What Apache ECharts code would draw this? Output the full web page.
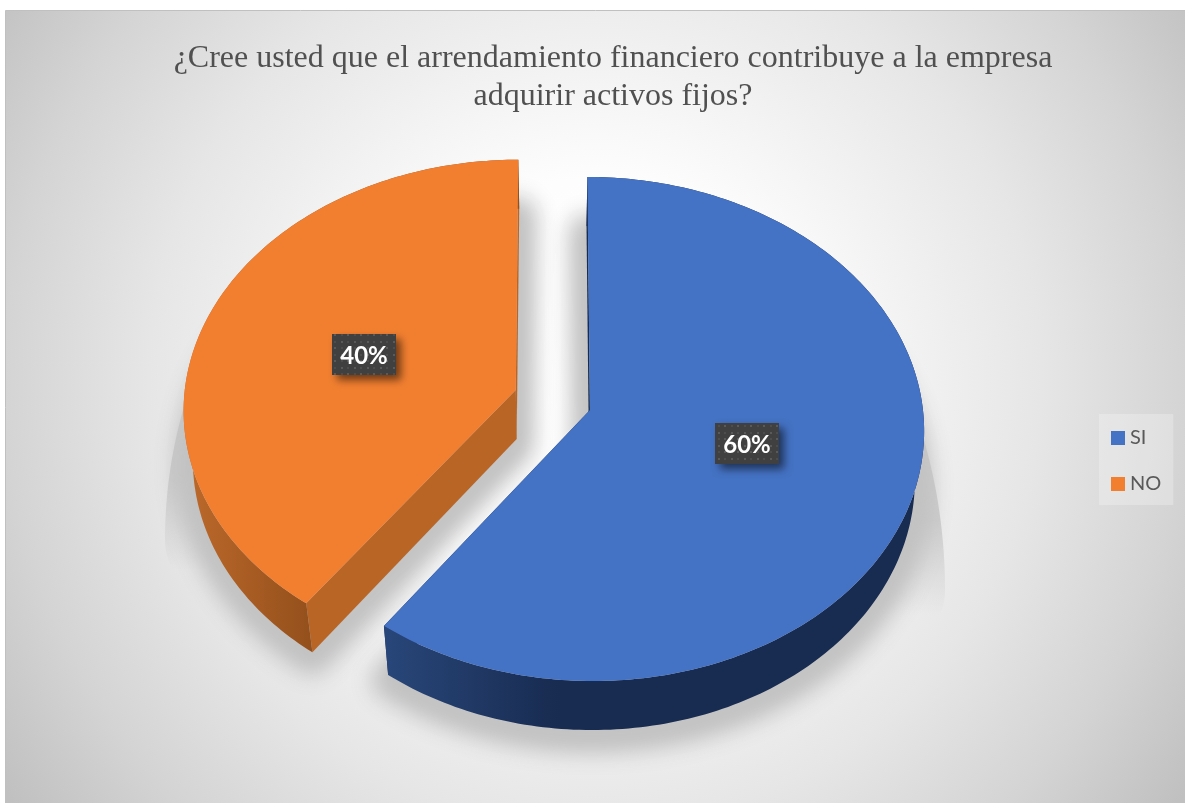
<!DOCTYPE html>
<html>
<head>
<meta charset="utf-8">
<style>html,body{margin:0;padding:0;background:#fff}#chart{width:1185px;height:803px}</style>
<script src="https://cdn.jsdelivr.net/npm/echarts@6/dist/echarts.min.js"></script>
</head>
<body>
<div id="chart"></div>
<script>
// Survey answers and their shares (percent)
const categories = ['SI', 'NO'];
const shares = [60, 40];
const titleLines = ['¿Cree usted que el arrendamiento financiero contribuye a la empresa', 'adquirir activos fijos?'];

// Camera used to project the flat pie onto the page
const VANISH_X = 553, PLANE_Y = 410, RADIUS_X = 333, RADIUS_Y = 250.6, PERSPECTIVE = 0.0754;
const DEPTH = 49, DEPTH_SCALE = 0.975;
// Plane offset of each slice's apex (the NO slice is pulled out of the pie)
const apexes = [{ u: 0.111, v: 0 }, { u: -0.1125, v: 0.08 }];
// Offsets of the percent badges along the slice's middle angle
const badgeRadius = [0.49, 0.49];
const badgeLift = [-4.5, 1.5];

const topColors = ['#4472c4', '#f27f30'];
const cutColors = ['#172c50', '#b86526'];
const sideGradients = [
  { x: 387, x2: 560, stops: ['#284679', '#182b50'] },
  { x: 190, x2: 310, stops: ['#bb682a', '#94501c'] }
];
// Streak of floor shadow that widens below each slice: centre, radii, sweep, fade band
const floorShadows = [
  { cx: 590, cy: 590, rx: 355, ryUp: 442, ryDown: 150, from: 60, to: 216, fadeFrom: 520, fadeTo: 615 },
  { cx: 517, cy: 540, rx: 352, ryUp: 411, ryDown: 140, from: 216, to: 300, fadeFrom: 480, fadeTo: 570 }
];
const OFFSCREEN = 3000;

function project(u, v) {
  const w = 1 + PERSPECTIVE * v;
  return [VANISH_X + RADIUS_X * u / w, PLANE_Y - RADIUS_Y * v / w];
}
function lower(p) {
  return [VANISH_X + (p[0] - VANISH_X) * DEPTH_SCALE, p[1] + DEPTH];
}
function sliceAngles(index) {
  const total = shares.reduce((a, b) => a + b, 0);
  let start = 0;
  for (let i = 0; i < index; i++) start += shares[i];
  return [start / total * 360, (start + shares[index]) / total * 360];
}
function rimPoints(index) {
  const a = sliceAngles(index), pts = [];
  for (let d = a[0]; d <= a[1] + 1e-6; d += 1) {
    const t = d * Math.PI / 180;
    pts.push(project(apexes[index].u + Math.sin(t), apexes[index].v + Math.cos(t)));
  }
  return pts;
}

// Dotted fill for the percent badges
function dottedPattern() {
  const c = document.createElement('canvas');
  c.width = c.height = 13;
  const g = c.getContext('2d');
  g.fillStyle = '#404040';
  g.fillRect(0, 0, 13, 13);
  g.fillStyle = '#5a5a5a';
  g.fillRect(3, 3, 2, 2);
  g.fillRect(9, 9, 2, 2);
  g.fillStyle = '#4d4d4d';
  g.fillRect(9, 3, 2, 2);
  g.fillRect(3, 9, 2, 2);
  return c;
}
const badgeFill = { image: dottedPattern(), repeat: 'repeat' };

function renderShadow(params, api) {
  const i = api.value(0);
  const apex = project(apexes[i].u, apexes[i].v);
  const s = floorShadows[i], streak = [apex];
  for (let d = s.from; d <= s.to; d += 1) {
    const t = d * Math.PI / 180, c = Math.cos(t);
    streak.push([s.cx + s.rx * Math.sin(t), s.cy - (c > 0 ? s.ryUp : s.ryDown) * c]);
  }
  // The casting shape sits off the page, so only its blurred shadow lands on it
  const base = [lower(apex)].concat(rimPoints(i).map(lower)).map(p => [p[0] - OFFSCREEN, p[1] + 6]);
  const fadeTop = 300;
  return {
    type: 'group',
    children: [
      {
        type: 'polygon', shape: { points: streak },
        style: {
          fill: {
            type: 'linear', x: 0, y: fadeTop, x2: 0, y2: s.fadeTo, global: true,
            colorStops: [
              { offset: 0, color: 'rgba(200,200,200,0.9)' },
              { offset: (s.fadeFrom - fadeTop) / (s.fadeTo - fadeTop), color: 'rgba(200,200,200,0.9)' },
              { offset: 1, color: 'rgba(200,200,200,0)' }
            ]
          }
        }
      },
      {
        type: 'polygon', shape: { points: base },
        style: {
          fill: '#c2c2c2', stroke: '#c2c2c2', lineWidth: 34, lineJoin: 'round',
          shadowBlur: 22, shadowColor: '#c2c2c2', shadowOffsetX: OFFSCREEN
        }
      }
    ]
  };
}

function renderSlice(params, api) {
  const i = params.seriesIndex - 1 === 0 ? 1 : 0;
  const rim = rimPoints(i);
  const apex = project(apexes[i].u, apexes[i].v);
  const apexLow = lower(apex);
  const rimLow = rim.map(lower);
  const g = sideGradients[i];
  const sideFill = {
    type: 'linear', x: g.x, y: 0, x2: g.x2, y2: 0, global: true,
    colorStops: [{ offset: 0, color: g.stops[0] }, { offset: 1, color: g.stops[1] }]
  };
  const first = rim[0], last = rim[rim.length - 1];
  const children = [
    { type: 'polygon', shape: { points: [apex, first, rimLow[0], apexLow] }, style: { fill: cutColors[i] } },
    { type: 'polygon', shape: { points: [apex, last, rimLow[rimLow.length - 1], apexLow] }, style: { fill: cutColors[i] } },
    { type: 'polygon', shape: { points: rim.concat(rimLow.slice().reverse()) }, style: { fill: sideFill } },
    { type: 'polygon', shape: { points: [apex].concat(rim) }, style: { fill: topColors[i] } }
  ];
  // Percent badge at the slice's middle angle
  const a = sliceAngles(i), mid = (a[0] + a[1]) / 2 * Math.PI / 180;
  const c = project(apexes[i].u + badgeRadius[i] * Math.sin(mid), apexes[i].v + badgeRadius[i] * Math.cos(mid));
  const cx = c[0], cy = c[1] + badgeLift[i];
  children.push({
    type: 'rect', shape: { x: Math.round(cx - 32), y: Math.round(cy - 20.5), width: 64, height: 41 },
    style: { fill: badgeFill, shadowBlur: 8, shadowOffsetX: 5, shadowOffsetY: 5, shadowColor: 'rgba(0,0,0,0.55)' }
  });
  children.push({
    type: 'text', x: Math.round(cx), y: Math.round(cy) + 1,
    style: { text: api.value(0) + '%', fill: '#fff', font: 'bold 24px Lato', align: 'center', verticalAlign: 'middle' }
  });
  return { type: 'group', children };
}

const chart = echarts.init(document.getElementById('chart'), null, { renderer: 'canvas' });
chart.setOption({
  animation: false,
  backgroundColor: '#ffffff',
  graphic: [{
    type: 'rect', z: -10, silent: true,
    shape: { x: 5.5, y: 10.5, width: 1185, height: 798 },
    style: {
      stroke: '#c0c0c0', lineWidth: 1,
      fill: {
        type: 'radial', x: 595, y: 380, r: 720, global: true,
        colorStops: [
          { offset: 0, color: '#ffffff' },
          { offset: 0.28, color: '#fdfdfd' },
          { offset: 0.5, color: '#eeeeee' },
          { offset: 0.62, color: '#e6e6e6' },
          { offset: 0.82, color: '#d4d4d4' },
          { offset: 1, color: '#c0c0c0' }
        ]
      }
    }
  }],
  title: {
    text: titleLines.join('\n'),
    left: 608, top: 35, textAlign: 'center',
    textStyle: { fontFamily: 'Liberation Serif', fontSize: 32, fontWeight: 'normal', color: '#505050', lineHeight: 38 }
  },
  legend: {
    data: categories,
    orient: 'vertical', left: 1099, top: 414,
    padding: [14, 12, 11, 12], itemWidth: 14, itemHeight: 14, itemGap: 26,
    icon: 'rect', selectedMode: false,
    backgroundColor: 'rgba(255,255,255,0.25)',
    textStyle: { fontFamily: 'Lato', fontSize: 20, color: '#595959', padding: [0, 3, 0, 0] }
  },
  series: [
    {
      type: 'custom', name: 'sombra', coordinateSystem: 'none', z: 1, silent: true,
      renderItem: renderShadow, data: [[1], [0]]
    },
    {
      type: 'custom', name: categories[1], coordinateSystem: 'none', z: 2, silent: true,
      itemStyle: { color: topColors[1] }, renderItem: renderSlice, data: [[shares[1]]]
    },
    {
      type: 'custom', name: categories[0], coordinateSystem: 'none', z: 3, silent: true,
      itemStyle: { color: topColors[0] }, renderItem: renderSlice, data: [[shares[0]]]
    }
  ]
});
</script>
</body>
</html>
